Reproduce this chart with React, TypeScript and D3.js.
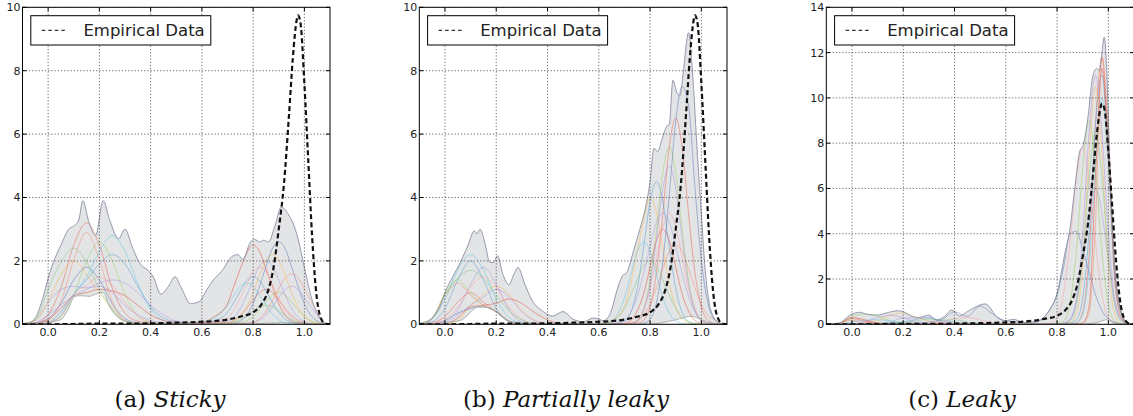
import { useEffect, useRef } from "react";
import * as d3 from "d3";

// x positions shared by all model density curves
const gridX = [-0.1, -0.05, 0, 0.05, 0.1, 0.15, 0.2, 0.25, 0.3, 0.35, 0.4, 0.45, 0.5, 0.55, 0.6, 0.65,
  0.7, 0.725, 0.75, 0.775, 0.8, 0.825, 0.85, 0.875, 0.9, 0.925, 0.95, 0.975, 1.0, 1.025, 1.05, 1.075, 1.1];

// empirical density (dashed black line), same in every panel
const empiricalX = [-0.1, 0.0, 0.1, 0.2, 0.3, 0.4, 0.5, 0.6, 0.65, 0.7, 0.75, 0.8, 0.83, 0.86, 0.88, 0.9, 0.92,
  0.94, 0.955, 0.97, 0.975, 0.985, 1.0, 1.015, 1.03, 1.045, 1.06, 1.08, 1.1];
const empiricalY = [0, 0, 0.01, 0.02, 0.02, 0.03, 0.05, 0.08, 0.1, 0.15, 0.24, 0.38, 0.6, 1.1, 1.8, 3.0, 4.4,
  6.6, 8.4, 9.6, 9.75, 9.5, 7.6, 5.2, 2.8, 1.1, 0.3, 0.03, 0];

// grey band: [x, min over models, max over models]
const stickyBand = [
  [-0.1, 0, 0], [-0.08, 0, 0.02], [-0.05, 0.01, 0.2], [-0.02, 0.03, 0.85], [0.0, 0.05, 1.45], [0.02, 0.08, 1.95],
  [0.05, 0.15, 2.5], [0.08, 0.5, 3.0], [0.1, 0.85, 3.1], [0.12, 0.9, 3.3], [0.135, 0.9, 3.9], [0.16, 0.88, 3.2],
  [0.185, 0.95, 2.8], [0.215, 1.0, 3.9], [0.24, 0.55, 3.3], [0.275, 0.2, 2.7], [0.3, 0.1, 3.0], [0.33, 0.05, 2.4],
  [0.36, 0.03, 1.9], [0.39, 0.02, 1.7], [0.41, 0.01, 1.5], [0.44, 0.01, 0.95], [0.47, 0.01, 1.2], [0.495, 0.01, 1.5],
  [0.52, 0.01, 1.15], [0.555, 0.01, 0.65], [0.59, 0.01, 0.72], [0.62, 0.01, 1.1], [0.645, 0.01, 1.4], [0.68, 0.02, 1.7],
  [0.715, 0.02, 2.12], [0.74, 0.02, 2.2], [0.76, 0.02, 2.05], [0.79, 0.01, 2.6], [0.805, 0, 2.68], [0.825, 0.02, 2.6],
  [0.84, 0.03, 2.65], [0.86, 0.04, 2.6], [0.885, 0.04, 3.1], [0.91, 0.05, 3.7], [0.935, 0.05, 3.5], [0.96, 0.05, 3.1],
  [0.975, 0.05, 2.7], [1.0, 0.03, 1.8], [1.03, 0.01, 0.77], [1.06, 0, 0.2], [1.08, 0, 0.03], [1.1, 0, 0],
];

const stickyCurves = [
  [0, 0.03, 0.3, 1.15, 2.5, 3.2, 2.5, 1.15, 0.35, 0.1, 0.04, 0.02, 0.02, 0.03, 0.04, 0.05, 0.06, 0.12, 0.28, 0.5, 0.77, 1.0, 1.1, 1.0, 0.77, 0.5, 0.28, 0.12, 0.05, 0.02, 0, 0, 0],
  [0, 0.01, 0.05, 0.4, 0.95, 1.4, 1.9, 2.2, 1.9, 1.2, 0.55, 0.2, 0.08, 0.05, 0.06, 0.12, 0.38, 0.69, 1.05, 1.38, 1.5, 1.38, 1.05, 0.69, 0.38, 0.17, 0.06, 0.02, 0, 0, 0, 0, 0],
  [0, 0.01, 0.05, 0.26, 0.94, 2.0, 2.6, 2.0, 0.94, 0.26, 0.06, 0.02, 0.01, 0.01, 0.02, 0.02, 0.03, 0.03, 0.04, 0.11, 0.25, 0.46, 0.7, 0.92, 1.0, 0.92, 0.7, 0.46, 0.25, 0.11, 0.04, 0.01, 0],
  [0.02, 0.12, 0.7, 1.1, 1.2, 1.15, 1.2, 1.0, 0.6, 0.3, 0.12, 0.05, 0.03, 0.03, 0.05, 0.08, 0.1, 0.22, 0.5, 0.92, 1.4, 1.84, 2.0, 1.84, 1.4, 0.92, 0.5, 0.22, 0.08, 0.03, 0, 0, 0],
  [0.03, 0.12, 0.72, 1.56, 2.0, 1.56, 1.0, 0.5, 0.1, 0.02, 0.01, 0.01, 0.01, 0.02, 0.03, 0.03, 0.03, 0.09, 0.24, 0.55, 1.0, 1.54, 2.02, 2.2, 2.02, 1.54, 1.0, 0.55, 0.24, 0.09, 0.03, 0.01, 0],
  [0, 0, 0.03, 0.3, 0.95, 1.5, 2.3, 2.8, 2.3, 1.29, 0.48, 0.12, 0.04, 0.04, 0.08, 0.2, 0.6, 0.91, 1.2, 1.3, 1.2, 0.91, 0.6, 0.33, 0.14, 0.05, 0.02, 0, 0, 0, 0, 0, 0],
  [0, 0.01, 0.15, 0.5, 0.9, 1.0, 1.1, 1.05, 0.9, 0.6, 0.3, 0.12, 0.06, 0.04, 0.06, 0.25, 0.65, 1.2, 1.75, 2.25, 2.5, 2.3, 1.75, 1.2, 0.65, 0.29, 0.1, 0.04, 0.01, 0, 0, 0, 0],
  [0.01, 0.04, 0.18, 0.65, 1.4, 1.8, 1.4, 0.65, 0.18, 0.04, 0.01, 0.01, 0.01, 0.01, 0.02, 0.02, 0.02, 0.04, 0.1, 0.29, 0.65, 1.2, 1.82, 2.39, 2.6, 2.39, 1.82, 1.2, 0.65, 0.29, 0.1, 0.03, 0],
  [0, 0.02, 0.07, 0.26, 0.95, 1.23, 1.5, 1.23, 0.69, 0.26, 0.07, 0.02, 0.01, 0.02, 0.04, 0.1, 0.2, 0.45, 0.83, 1.26, 1.66, 1.8, 1.66, 1.26, 0.83, 0.45, 0.2, 0.07, 0.03, 0.01, 0, 0, 0],
  [0.02, 0.15, 1.1, 1.97, 2.4, 1.97, 1.1, 0.5, 0.1, 0.02, 0.01, 0.01, 0.01, 0.01, 0.01, 0.02, 0.03, 0.07, 0.15, 0.28, 0.42, 0.55, 0.6, 0.55, 0.42, 0.28, 0.15, 0.07, 0.03, 0.01, 0, 0, 0],
  [0, 0.05, 0.3, 0.6, 0.9, 1.1, 1.3, 1.4, 1.3, 1.0, 0.6, 0.3, 0.1, 0.04, 0.02, 0.01, 0.01, 0.01, 0.02, 0.03, 0.05, 0.13, 0.3, 0.55, 0.84, 1.1, 1.2, 1.1, 0.84, 0.55, 0.3, 0.05, 0],
  [0, 0.01, 0.12, 0.72, 2.03, 2.9, 2.03, 0.72, 0.12, 0.02, 0.01, 0.01, 0.01, 0.01, 0.01, 0.01, 0.01, 0.02, 0.03, 0.04, 0.06, 0.18, 0.4, 0.74, 1.12, 1.47, 1.6, 1.47, 1.12, 0.74, 0.4, 0.06, 0],
];

const partialBand = [
  [-0.1, 0, 0], [-0.07, 0, 0.05], [-0.04, 0.01, 0.3], [-0.02, 0.03, 0.55], [0, 0.06, 1.0], [0.03, 0.08, 1.5],
  [0.06, 0.12, 1.95], [0.09, 0.3, 2.5], [0.115, 0.5, 2.95], [0.125, 0.55, 2.85], [0.137, 0.55, 3.0], [0.155, 0.55, 2.6],
  [0.175, 0.5, 1.95], [0.19, 0.45, 1.95], [0.205, 0.35, 2.16], [0.225, 0.22, 1.6], [0.25, 0.1, 1.25], [0.27, 0.06, 1.6],
  [0.285, 0.04, 1.79], [0.31, 0.02, 1.3], [0.34, 0.01, 0.75], [0.38, 0.01, 0.42], [0.42, 0, 0.26], [0.46, 0, 0.4],
  [0.5, 0, 0.16], [0.54, 0, 0.08], [0.58, 0, 0.2], [0.62, 0, 0.12], [0.65, 0, 0.45], [0.67, 0, 1.05], [0.69, 0, 1.5],
  [0.71, 0, 1.65], [0.735, 0, 2.3], [0.76, 0, 3.0], [0.78, 0, 3.6], [0.8, 0, 4.5], [0.815, 0.01, 5.55], [0.83, 0.03, 5.45],
  [0.845, 0.05, 5.8], [0.865, 0.08, 6.25], [0.875, 0.1, 6.3], [0.889, 0.12, 7.7], [0.905, 0.15, 7.3], [0.916, 0.18, 7.2],
  [0.93, 0.2, 8.0], [0.95, 0.25, 9.2], [0.965, 0.25, 8.0], [0.985, 0.2, 5.3], [1.0, 0.15, 3.5], [1.015, 0.1, 1.7],
  [1.03, 0.05, 0.7], [1.05, 0.02, 0.2], [1.07, 0, 0.05], [1.1, 0, 0],
];

const partialCurves = [
  [0, 0.04, 0.25, 0.7, 1.0, 0.7, 0.4, 0.1, 0.01, 0.01, 0, 0, 0, 0, 0, 0, 0, 0, 0.03, 0.13, 0.55, 1.63, 3.5, 5.6, 6.5, 5.6, 3.5, 1.63, 0.55, 0.13, 0.03, 0, 0],
  [0.01, 0.08, 0.5, 1.4, 2.0, 1.4, 0.5, 0.08, 0.01, 0, 0, 0, 0, 0, 0, 0.01, 0.09, 0.38, 1.13, 2.43, 3.87, 4.5, 3.87, 2.43, 1.13, 0.38, 0.09, 0.02, 0, 0, 0, 0, 0],
  [0.01, 0.2, 0.98, 1.4, 0.98, 0.6, 0.4, 0.1, 0.01, 0, 0, 0, 0, 0, 0, 0, 0, 0.02, 0.11, 0.48, 1.4, 3.0, 4.8, 5.6, 4.8, 3.0, 1.4, 0.48, 0.11, 0.02, 0, 0, 0],
  [0, 0.01, 0.07, 0.45, 1.26, 1.8, 1.26, 0.45, 0.07, 0.01, 0, 0, 0, 0, 0, 0.02, 0.14, 0.39, 0.88, 1.61, 2.45, 3.22, 3.5, 3.22, 2.45, 1.61, 0.88, 0.39, 0.14, 0.05, 0.01, 0, 0],
  [0, 0, 0.02, 0.12, 0.6, 0.94, 1.2, 0.94, 0.43, 0.12, 0.02, 0, 0, 0, 0.01, 0.12, 0.56, 1.28, 2.3, 3.3, 4.0, 3.52, 2.4, 1.28, 0.56, 0.16, 0.04, 0.01, 0, 0, 0, 0, 0],
  [0.04, 0.18, 0.79, 1.72, 2.2, 1.72, 0.79, 0.22, 0.04, 0.01, 0, 0, 0, 0, 0, 0.1, 0.83, 1.56, 2.29, 2.6, 2.29, 1.56, 0.83, 0.36, 0.1, 0.03, 0, 0, 0, 0, 0, 0, 0],
  [0, 0, 0, 0.2, 0.55, 0.6, 0.66, 0.8, 0.66, 0.37, 0.14, 0.03, 0.01, 0, 0, 0, 0.03, 0.12, 0.42, 0.96, 1.8, 2.64, 3.0, 2.64, 1.8, 0.96, 0.42, 0.12, 0.03, 0, 0, 0, 0],
  [0, 0.02, 0.13, 0.35, 0.5, 0.55, 0.4, 0.1, 0, 0, 0, 0, 0, 0, 0, 0, 0, 0, 0, 0.03, 0.16, 0.68, 2.0, 4.1, 6.4, 7.5, 6.9, 4.32, 2.0, 0.68, 0.16, 0.03, 0],
  [0, 0.03, 0.15, 0.54, 1.17, 1.5, 1.17, 0.54, 0.15, 0.03, 0, 0, 0, 0, 0, 0, 0, 0.04, 0.14, 0.49, 1.12, 2.1, 3.08, 3.5, 3.08, 2.1, 1.12, 0.49, 0.14, 0.04, 0, 0, 0],
  [0.03, 0.2, 0.92, 1.46, 1.7, 1.46, 0.92, 0.43, 0.14, 0.03, 0.01, 0, 0, 0, 0.01, 0.08, 0.5, 0.92, 1.4, 1.84, 2.0, 1.84, 1.4, 0.92, 0.5, 0.22, 0.08, 0.03, 0.01, 0, 0, 0, 0],
  [0, 0, 0.01, 0.3, 0.6, 0.86, 1.1, 0.86, 0.4, 0.11, 0.02, 0, 0, 0, 0, 0, 0, 0.02, 0.1, 0.43, 1.25, 2.7, 4.3, 5.0, 4.3, 2.7, 1.25, 0.43, 0.1, 0.02, 0, 0, 0],
  [0.02, 0.2, 0.91, 1.3, 0.91, 0.6, 0.4, 0.1, 0, 0, 0, 0, 0, 0, 0, 0, 0.01, 0.04, 0.1, 0.28, 0.63, 1.15, 1.75, 2.3, 2.5, 2.3, 1.75, 1.15, 0.63, 0.28, 0.15, 0.03, 0],
];

const leakyBand = [
  [-0.1, 0, 0], [-0.05, 0, 0.05], [-0.02, 0.01, 0.3], [0.0, 0.02, 0.45], [0.03, 0.02, 0.53], [0.06, 0.01, 0.44],
  [0.1, 0.01, 0.41], [0.13, 0, 0.49], [0.18, 0, 0.6], [0.2, 0, 0.56], [0.23, 0, 0.37], [0.26, 0, 0.3], [0.3, 0, 0.41],
  [0.33, 0, 0.19], [0.36, 0, 0.34], [0.39, 0, 0.63], [0.42, 0, 0.37], [0.45, 0, 0.56], [0.52, 0, 0.9], [0.57, 0, 0.27],
  [0.6, 0, 0.16], [0.63, 0, 0.22], [0.67, 0, 0.07], [0.72, 0, 0.12], [0.77, 0, 0.63], [0.8, 0, 1.37], [0.83, 0, 3.1],
  [0.85, 0, 4.2], [0.87, 0, 6.1], [0.89, 0, 7.7], [0.9, 0, 7.85], [0.92, 0.02, 9.1], [0.94, 0.05, 11.0],
  [0.955, 0.08, 11.3], [0.965, 0.1, 11.2], [0.974, 0.15, 11.9], [0.984, 0.18, 12.68], [0.993, 0.2, 11.4],
  [1.006, 0.15, 7.0], [1.02, 0.05, 3.3], [1.04, 0.01, 1.08], [1.058, 0, 0.27], [1.078, 0, 0.04], [1.1, 0, 0],
];

const leakyCurves = [
  [0, 0.05, 0.25, 0.15, 0.05, 0.02, 0.01, 0, 0, 0, 0, 0, 0, 0, 0, 0, 0, 0, 0, 0, 0, 0, 0, 0.05, 0.55, 3.1, 8.9, 11.8, 8.0, 2.4, 0.55, 0.05, 0],
  [0, 0, 0, 0, 0.02, 0.05, 0.1, 0.22, 0.3, 0.15, 0.1, 0.03, 0, 0, 0, 0, 0, 0, 0, 0, 0, 0.02, 0.05, 0.2, 1.15, 4.1, 8.85, 11.0, 7.5, 2.4, 0.5, 0.04, 0],
  [0, 0.03, 0.35, 0.45, 0.35, 0.15, 0.04, 0.01, 0, 0, 0, 0, 0, 0, 0, 0, 0, 0, 0, 0.02, 0.05, 0.15, 0.9, 3.2, 6.9, 9.0, 6.9, 3.2, 0.9, 0.15, 0.02, 0, 0],
  [0, 0, 0, 0, 0.02, 0.1, 0.28, 0.28, 0.28, 0.1, 0.02, 0, 0, 0, 0, 0, 0, 0, 0, 0.01, 0.02, 0.05, 0.24, 1.0, 2.8, 4.9, 6.0, 4.9, 2.8, 1.0, 0.24, 0.05, 0],
  [0, 0, 0.01, 0.05, 0.15, 0.4, 0.5, 0.3, 0.15, 0.03, 0, 0, 0, 0, 0, 0, 0, 0, 0, 0, 0, 0.04, 0.08, 0.46, 2.6, 7.5, 10.5, 7.5, 2.6, 0.46, 0.04, 0, 0],
  [0, 0.02, 0.1, 0.18, 0.2, 0.15, 0.06, 0.01, 0, 0, 0, 0, 0, 0, 0, 0, 0, 0, 0, 0, 0, 0, 0.02, 0.06, 0.44, 2.5, 7.1, 10.0, 7.1, 2.0, 0.44, 0.04, 0],
  [0, 0.03, 0.3, 0.2, 0.05, 0.01, 0, 0, 0, 0, 0, 0, 0, 0, 0, 0, 0, 0, 0, 0, 0, 0, 0, 0.01, 0.05, 0.8, 6.5, 11.3, 7.5, 2.0, 0.3, 0.02, 0],
  [0, 0, 0.02, 0.05, 0.05, 0.05, 0.05, 0.05, 0.1, 0.2, 0.55, 0.35, 0.8, 0.45, 0.15, 0.1, 0.05, 0.12, 0.33, 0.7, 1.3, 2.5, 4.0, 4.1, 3.3, 2.3, 1.3, 0.6, 0.25, 0.08, 0.02, 0, 0],
  [0, 0, 0, 0, 0, 0, 0, 0.02, 0.05, 0.1, 0.25, 0.3, 0.2, 0.06, 0.01, 0, 0, 0, 0.01, 0.06, 0.31, 1.33, 3.6, 6.4, 7.8, 6.4, 3.6, 1.33, 0.31, 0.06, 0.01, 0, 0],
  [0, 0, 0, 0, 0, 0.02, 0.08, 0.15, 0.22, 0.18, 0.2, 0.1, 0.03, 0, 0, 0, 0, 0, 0, 0, 0.02, 0.05, 0.14, 0.85, 3.1, 6.5, 8.5, 6.5, 3.1, 0.85, 0.14, 0.02, 0],
  [0, 0, 0.02, 0.1, 0.3, 0.4, 0.3, 0.1, 0.02, 0, 0, 0, 0, 0, 0, 0, 0, 0, 0, 0, 0.02, 0.05, 0.19, 1.1, 4.0, 8.5, 11.0, 8.5, 4.0, 1.1, 0.19, 0.02, 0],
  [0, 0.05, 0.18, 0.1, 0.03, 0, 0, 0, 0, 0, 0, 0, 0, 0, 0, 0, 0, 0, 0, 0, 0, 0, 0, 0, 0.05, 0.5, 4.5, 11.8, 8.5, 2.5, 0.5, 0.05, 0],
];

const xTicks = [0, 0.2, 0.4, 0.6, 0.8, 1.0];
const yTicksLow = [0, 2, 4, 6, 8, 10];
const yTicksHigh = [0, 2, 4, 6, 8, 10, 12, 14];
const captionTags = ["(a)", "(b)", "(c)"];
const captionNames = ["Sticky", "Partially leaky", "Leaky"];
const legendLabel = "Empirical Data";

const curveColors = ["#e8604c", "#4f9bd0", "#9ad05a", "#a497e0", "#fbb84e", "#5cc8e6",
  "#e24a33", "#5a74b8", "#ff9ea3", "#7fc97f", "#b08ee0", "#f58b6c"];

const panels = [
  { band: stickyBand, curves: stickyCurves, yTicks: yTicksLow, left: 22.5, right: 330, capX: 170 },
  { band: partialBand, curves: partialCurves, yTicks: yTicksLow, left: 419.3, right: 727, capX: 566 },
  { band: leakyBand, curves: leakyCurves, yTicks: yTicksHigh, left: 826.3, right: 1134, capX: 962 },
];

export default function App() {
  const svgRef = useRef<SVGSVGElement | null>(null);

  useEffect(() => {
    const svg = d3.select(svgRef.current);
    svg.selectAll("*").remove();
    const top = 7.3;
    const bottom = 324.3;
    const sans = "'DejaVu Sans', sans-serif";

    panels.forEach((p, pi) => {
      const x = d3.scaleLinear().domain([-0.1, 1.1]).range([p.left, p.right]);
      const y = d3.scaleLinear().domain([0, d3.max(p.yTicks) as number]).range([bottom, top]);
      const g = svg.append("g");

      const clipId = `plot-clip-${pi}`;
      svg.append("defs").append("clipPath").attr("id", clipId)
        .append("rect").attr("x", p.left).attr("y", top)
        .attr("width", p.right - p.left).attr("height", bottom - top);
      const plot = g.append("g").attr("clip-path", `url(#${clipId})`);

      // grey min/max band
      const area = d3.area<number[]>()
        .x(d => x(d[0])).y0(d => y(d[1])).y1(d => y(d[2]))
        .curve(d3.curveMonotoneX);
      plot.append("path").datum(p.band).attr("d", area).attr("fill", "#e3e4e6");

      // individual model curves
      const line = d3.line<number>()
        .x((_, i) => x(gridX[i])).y(d => y(d))
        .curve(d3.curveMonotoneX);
      p.curves.forEach((c, ci) => {
        plot.append("path").attr("d", line(c))
          .attr("fill", "none")
          .attr("stroke", curveColors[ci % curveColors.length])
          .attr("stroke-opacity", 0.55)
          .attr("stroke-width", 0.9);
      });

      // band outlines
      const upper = d3.line<number[]>().x(d => x(d[0])).y(d => y(d[2])).curve(d3.curveMonotoneX);
      const lower = d3.line<number[]>().x(d => x(d[0])).y(d => y(d[1])).curve(d3.curveMonotoneX);
      plot.append("path").attr("d", upper(p.band)).attr("fill", "none")
        .attr("stroke", "#8a8fa3").attr("stroke-width", 0.9);
      plot.append("path").attr("d", lower(p.band)).attr("fill", "none")
        .attr("stroke", "#9aa8a0").attr("stroke-width", 0.8);

      // dotted grid
      xTicks.forEach(t => {
        plot.append("line").attr("x1", x(t)).attr("x2", x(t)).attr("y1", top).attr("y2", bottom)
          .attr("stroke", "#444").attr("stroke-width", 0.8).attr("stroke-dasharray", "1.2,2");
      });
      p.yTicks.forEach(t => {
        plot.append("line").attr("x1", p.left).attr("x2", p.right).attr("y1", y(t)).attr("y2", y(t))
          .attr("stroke", "#444").attr("stroke-width", 0.8).attr("stroke-dasharray", "1.2,2");
      });

      // empirical data
      const emp = d3.line<number>()
        .x((_, i) => x(empiricalX[i])).y(d => y(d))
        .curve(d3.curveMonotoneX);
      plot.append("path").attr("d", emp(empiricalY)).attr("fill", "none")
        .attr("stroke", "#111").attr("stroke-width", 2.2).attr("stroke-dasharray", "5,3");

      // frame and inward ticks
      g.append("rect").attr("x", p.left).attr("y", top)
        .attr("width", p.right - p.left).attr("height", bottom - top)
        .attr("fill", "none").attr("stroke", "#000").attr("stroke-width", 1);
      xTicks.forEach(t => {
        g.append("line").attr("x1", x(t)).attr("x2", x(t)).attr("y1", bottom).attr("y2", bottom - 4).attr("stroke", "#000");
        g.append("line").attr("x1", x(t)).attr("x2", x(t)).attr("y1", top).attr("y2", top + 4).attr("stroke", "#000");
        g.append("text").attr("x", x(t)).attr("y", bottom + 12)
          .attr("text-anchor", "middle").attr("font-family", sans).attr("font-size", 11).attr("fill", "#222")
          .text(d3.format(".1f")(t));
      });
      p.yTicks.forEach(t => {
        g.append("line").attr("x1", p.left).attr("x2", p.left + 4).attr("y1", y(t)).attr("y2", y(t)).attr("stroke", "#000");
        g.append("line").attr("x1", p.right).attr("x2", p.right - 4).attr("y1", y(t)).attr("y2", y(t)).attr("stroke", "#000");
        g.append("text").attr("x", p.left - 2).attr("y", y(t)).attr("dy", "0.36em")
          .attr("text-anchor", "end").attr("font-family", sans).attr("font-size", 11).attr("fill", "#222")
          .text(String(t));
      });

      // legend
      const lg = g.append("g").attr("transform", `translate(${p.left + 8.3},15.7)`);
      lg.append("rect").attr("width", 180).attr("height", 29.3)
        .attr("fill", "#fff").attr("stroke", "#000").attr("stroke-width", 1);
      lg.append("line").attr("x1", 11).attr("x2", 34.5).attr("y1", 14.6).attr("y2", 14.6)
        .attr("stroke", "#333").attr("stroke-width", 1.3).attr("stroke-dasharray", "3.5,3");
      lg.append("text").attr("x", 52.6).attr("y", 20)
        .attr("font-family", sans).attr("font-size", 16.5).attr("fill", "#222")
        .text(legendLabel);

      // caption
      const cap = svg.append("text").attr("x", p.capX).attr("y", 407)
        .attr("text-anchor", "middle").attr("font-family", "'DejaVu Serif', serif")
        .attr("font-size", 23).attr("fill", "#111");
      cap.append("tspan").text(captionTags[pi] + " ");
      cap.append("tspan").attr("font-style", "italic").text(captionNames[pi]);
    });
  }, []);

  return (
    <svg
      ref={svgRef}
      width={1133}
      height={416}
      style={{ position: "absolute", left: 0, top: 0, background: "#fff" }}
    />
  );
}
